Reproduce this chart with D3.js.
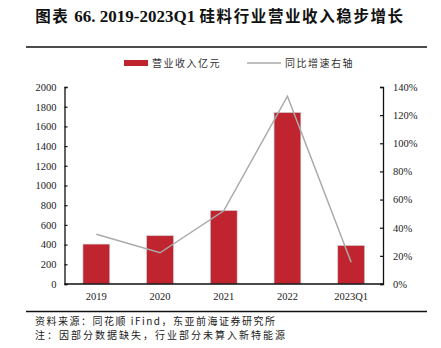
<!DOCTYPE html>
<html>
<head>
<meta charset="utf-8">
<script src="https://cdn.jsdelivr.net/npm/d3@7"></script>
<style>
  html, body { margin: 0; padding: 0; background: #fff; }
  svg { display: block; }
</style>
</head>
<body>
<svg id="chart" width="441" height="348"></svg>
<script>
// Silicon material industry revenue (100M CNY) and YoY growth
const categories = ["2019", "2020", "2021", "2022", "2023Q1"];
const revenue = [405, 490, 745, 1740, 390];
const growth = [35.3, 22.2, 52, 133.5, 15.5];
const leftTicks = [0, 200, 400, 600, 800, 1000, 1200, 1400, 1600, 1800, 2000];
const rightTicks = [0, 20, 40, 60, 80, 100, 120, 140];

const svg = d3.select("#chart");
const serif = "'Liberation Serif', 'Times New Roman', serif";
const cjk = "'Noto Sans CJK SC', 'Noto Sans', sans-serif";

const m = { left: 64.5, right: 383, top: 87, bottom: 284 };

const x = d3.scaleBand().domain(categories).range([m.left, m.right]).paddingInner(0.58).paddingOuter(0.29);
const yL = d3.scaleLinear().domain([0, 2000]).range([m.bottom, m.top]);
const yR = d3.scaleLinear().domain([0, 140]).range([m.bottom, m.top]);

// Title
const title = svg.append("text").attr("x", 220).attr("y", 22).attr("text-anchor", "middle")
  .attr("font-weight", "bold").attr("fill", "#111");
title.append("tspan").attr("font-family", cjk).attr("font-size", 15.5).attr("letter-spacing", 1.5).text("图表 ");
title.append("tspan").attr("font-family", serif).attr("font-size", 17).text("66. 2019-2023Q1 ");
title.append("tspan").attr("font-family", cjk).attr("font-size", 15.5).attr("letter-spacing", 1.6).text("硅料行业营业收入稳步增长");

// Rules
svg.append("line").attr("x1", 26).attr("x2", 427).attr("y1", 47).attr("y2", 47)
  .attr("stroke", "#111").attr("stroke-width", 1.5);
svg.append("line").attr("x1", 26).attr("x2", 427).attr("y1", 311.5).attr("y2", 311.5)
  .attr("stroke", "#111").attr("stroke-width", 1.5);

// Legend
svg.append("rect").attr("x", 124).attr("y", 60).attr("width", 24).attr("height", 6).attr("fill", "#c0252f");
svg.append("text").attr("x", 152).attr("y", 67).attr("font-family", cjk).attr("font-size", 10)
  .attr("letter-spacing", 1.5).attr("fill", "#333").text("营业收入亿元");
svg.append("line").attr("x1", 247).attr("x2", 281).attr("y1", 63).attr("y2", 63)
  .attr("stroke", "#aaa").attr("stroke-width", 1.5);
svg.append("text").attr("x", 285).attr("y", 67).attr("font-family", cjk).attr("font-size", 10)
  .attr("letter-spacing", 1.5).attr("fill", "#333").text("同比增速右轴");

// Bars
svg.append("g").selectAll("rect").data(categories).join("rect")
  .attr("x", d => x(d))
  .attr("width", x.bandwidth())
  .attr("y", (d, i) => yL(revenue[i]))
  .attr("height", (d, i) => yL(0) - yL(revenue[i]))
  .attr("fill", "#c0252f")
  .attr("stroke", "#c8c8c8").attr("stroke-width", 0.6);

// Growth line
const line = d3.line().x((d, i) => x(categories[i]) + x.bandwidth() / 2).y(d => yR(d));
svg.append("path").datum(growth).attr("d", line)
  .attr("fill", "none").attr("stroke", "#aaa").attr("stroke-width", 1.5);

// Axes
const axL = svg.append("g").attr("transform", `translate(${m.left},0)`)
  .call(d3.axisLeft(yL).tickValues(leftTicks).tickSize(-3).tickPadding(8).tickFormat(d3.format("d")));
const axR = svg.append("g").attr("transform", `translate(${m.right},0)`)
  .call(d3.axisRight(yR).tickValues(rightTicks).tickSize(-3).tickPadding(10).tickFormat(d => d + "%"));
const axB = svg.append("g").attr("transform", `translate(0,${m.bottom})`)
  .call(d3.axisBottom(x).tickSize(0).tickPadding(9));

[axL, axR, axB].forEach(g => {
  g.select(".domain").attr("stroke", "#111").attr("stroke-width", 1.3);
  g.selectAll(".tick line").attr("stroke", "#111").attr("stroke-width", 1.2);
  g.selectAll("text").attr("font-family", serif).attr("font-size", 10.5).attr("fill", "#222");
});
axB.select(".domain").attr("d", `M${m.left},0H${m.right}`);

// Source notes
svg.append("text").attr("x", 35).attr("y", 325).attr("font-family", cjk).attr("font-size", 10)
  .attr("letter-spacing", 1.5).attr("fill", "#222")
  .text("资料来源：同花顺 iFind，东亚前海证券研究所");
svg.append("text").attr("x", 35).attr("y", 339).attr("font-family", cjk).attr("font-size", 10)
  .attr("letter-spacing", 2).attr("fill", "#222")
  .text("注：因部分数据缺失，行业部分未算入新特能源");
</script>
</body>
</html>
